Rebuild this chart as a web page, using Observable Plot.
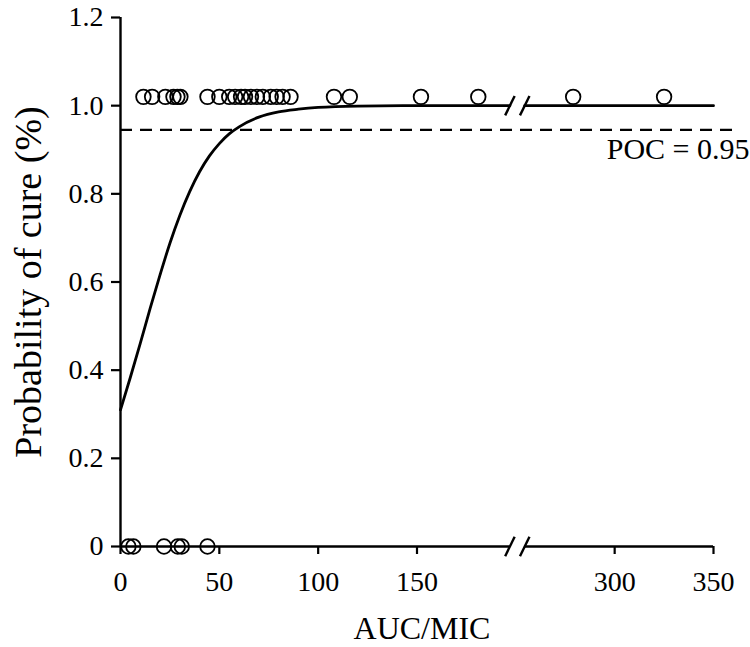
<!DOCTYPE html>
<html>
<head>
<meta charset="utf-8">
<script src="https://cdn.jsdelivr.net/npm/d3@7"></script>
<script src="https://cdn.jsdelivr.net/npm/@observablehq/plot@0.6"></script>
<style>
  body { margin: 0; background: #fff; }
  #chart svg { display: block; }
</style>
</head>
<body>
<div id="chart"></div>
<script>
// ---- data ----
// cured patients (plotted just above 1.0)
const curedAUC = [11.6, 16, 22.7, 26.8, 28.8, 30.3, 44, 50, 55, 58, 61, 63, 66, 69, 72, 76, 79, 82, 86, 108, 116, 152, 181, 279, 325];
const curedY = 1.02;
// failures (plotted at 0)
const failAUC = [4, 6.5, 22, 29, 31, 44];
const failY = 0;
// fitted probability-of-cure curve
const curveAUC = [0, 5, 10, 15, 20, 25, 30, 35, 40, 45, 50, 55, 60, 70, 80, 90, 100, 120, 150, 197, 254, 350];
const curveP   = [0.31, 0.384, 0.461, 0.54, 0.616, 0.688, 0.751, 0.805, 0.85, 0.886, 0.914, 0.936, 0.952, 0.974, 0.986, 0.992, 0.996, 0.999, 1.0, 1.0, 1.0, 1.0];
// POC threshold
const pocValue = 0.945;
const pocLabel = "POC = 0.95";
// axis ticks and titles
const xTickValues = [0, 50, 100, 150, 300, 350];
const yTickValues = [0, 0.2, 0.4, 0.6, 0.8, 1.0, 1.2];
const xTitle = "AUC/MIC";
const yTitle = "Probability of cure (%)";
// axis break: values between breakLo and breakHi are cut out
const breakLo = 200, breakHi = 250;

// ---- broken-axis mapping ----
const disp = v => v <= breakLo ? v : v - (breakHi - breakLo);

const curve = curveAUC.map((x, i) => ({x, p: curveP[i], seg: x <= breakLo ? 0 : 1}));
const cured = curedAUC.map(x => ({x, y: curedY}));
const fail = failAUC.map(x => ({x, y: failY}));

// break gap in display units
const gapL = disp(breakLo) - 3, gapR = disp(breakLo) + 4.5;
const slashes = [gapL, gapR];

const font = '"Liberation Serif", "Times New Roman", serif';

const chart = Plot.plot({
  width: 750,
  height: 647,
  marginLeft: 120,
  marginRight: 37,
  marginTop: 17,
  marginBottom: 101,
  style: {fontFamily: font, fontSize: "28px", color: "#000", background: "#fff"},
  x: {domain: [0, disp(350)]},
  y: {domain: [0, 1.2]},
  marks: [
    // axes
    Plot.axisY({
      ticks: yTickValues,
      tickFormat: d => d === 0 ? "0" : d.toFixed(1),
      tickSize: 9, tickPadding: 8, strokeWidth: 2.2,
      label: null, fontSize: 28
    }),
    Plot.axisX({
      ticks: xTickValues.map(disp),
      tickFormat: (d, i) => String(xTickValues[i]),
      tickSize: 8, tickPadding: 17, strokeWidth: 2.2,
      label: null, fontSize: 28
    }),
    // axis titles
    Plot.text([yTitle], {frameAnchor: "left", text: d => d, rotate: -90, textAnchor: "middle", lineAnchor: "middle", dx: -92, dy: 0, fontSize: 38}),
    Plot.text([xTitle], {frameAnchor: "bottom", text: d => d, textAnchor: "middle", lineAnchor: "middle", dx: 5, dy: 82, fontSize: 32}),
    // y axis line
    Plot.ruleX([0], {y1: 0, y2: 1.2, strokeWidth: 2.4}),
    // x axis line with break
    Plot.ruleY([0], {x1: 0, x2: gapL, strokeWidth: 2.4}),
    Plot.ruleY([0], {x1: gapR, x2: disp(350), strokeWidth: 2.4}),
    Plot.link(slashes, {x1: d => d - 2.4, x2: d => d + 2.4, y1: -0.022, y2: 0.022, strokeWidth: 2.4}),
    // POC threshold
    Plot.ruleY([pocValue], {x1: 0, x2: disp(350) + 10, strokeDasharray: "12,8", strokeWidth: 2.4, clip: false}),
    Plot.text([pocLabel], {frameAnchor: "right", y: 0.9, text: d => d, dx: 36, textAnchor: "end", fontSize: 30}),
    // fitted curve, split at the break
    Plot.line(curve.filter(d => d.seg === 0), {x: d => Math.min(disp(d.x), gapL), y: "p", curve: "monotone-x", strokeWidth: 2.8}),
    Plot.line(curve.filter(d => d.seg === 1), {x: d => Math.max(disp(d.x), gapR), y: "p", strokeWidth: 2.8}),
    Plot.link(slashes, {x1: d => d - 2.4, x2: d => d + 2.4, y1: 0.978, y2: 1.022, strokeWidth: 2.4}),
    // observations
    Plot.dot(cured, {x: d => disp(d.x), y: "y", r: 7.3, stroke: "#000", fill: "none", strokeWidth: 1.8}),
    Plot.dot(fail, {x: d => disp(d.x), y: "y", r: 7.3, stroke: "#000", fill: "none", strokeWidth: 1.8})
  ]
});
document.getElementById("chart").appendChild(chart);
</script>
</body>
</html>
